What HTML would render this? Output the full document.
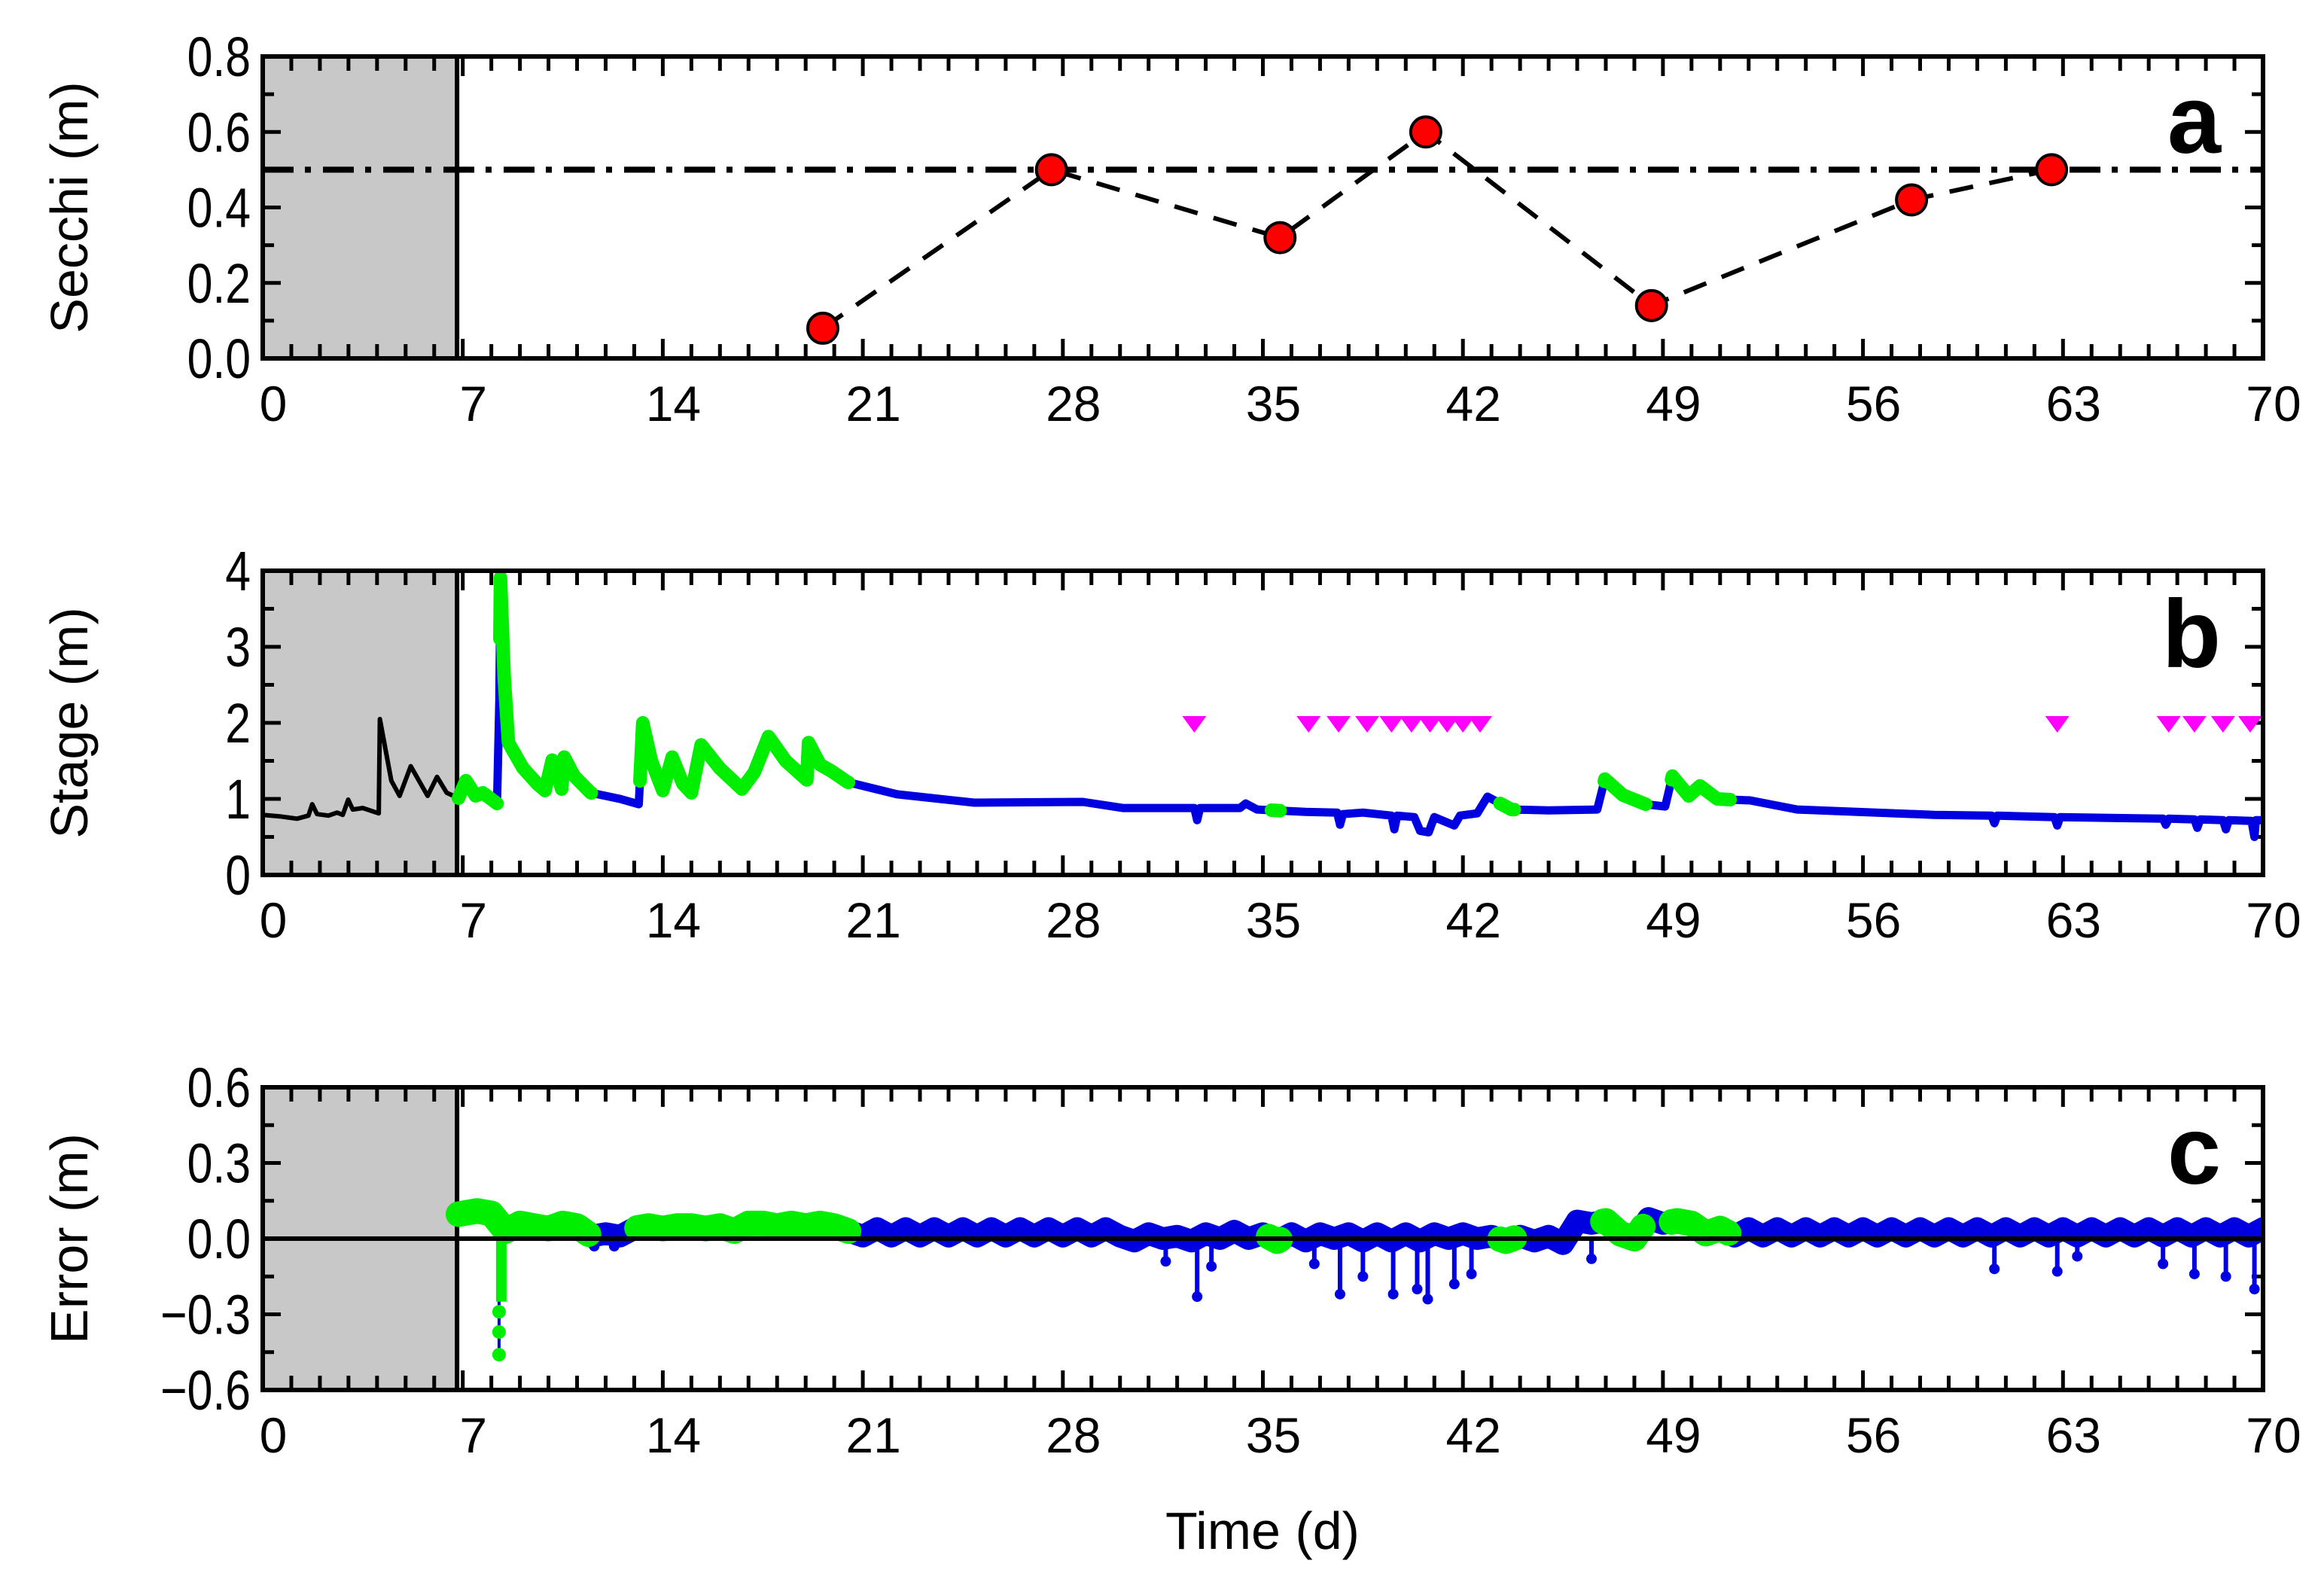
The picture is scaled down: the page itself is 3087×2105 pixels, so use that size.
<!DOCTYPE html>
<html><head><meta charset="utf-8">
<style>
html,body{margin:0;padding:0;background:#fff;}
svg{display:block;font-family:"Liberation Sans",Arial,sans-serif;}
</style></head>
<body>
<svg id="chart" width="3087" height="2105" viewBox="0 0 3087 2105" xmlns="http://www.w3.org/2000/svg">
<rect x="0" y="0" width="3087" height="2105" fill="#fff"/>
<defs>
<clipPath id="clipb"><rect x="349" y="758" width="2657" height="404"/></clipPath>
<clipPath id="clipc"><rect x="349" y="1444" width="2657" height="402"/></clipPath>
</defs>
<g id="root"></g>
</svg>
<script>
// ---------- data ----------
const xTickLabels = [0, 7, 14, 21, 28, 35, 42, 49, 56, 63, 70];
const secchiDays = [19.6, 27.6, 35.6, 40.7, 48.6, 57.7, 62.6];
const secchiValues = [0.08, 0.50, 0.32, 0.60, 0.14, 0.42, 0.50];
const secchiThreshold = 0.5;
const secchiYTicks = ["0.0", "0.2", "0.4", "0.6", "0.8"];
const stageYTicks = ["0", "1", "2", "3", "4"];
const errorYTicks = ["-0.6", "-0.3", "0.0", "0.3", "0.6"];
const spinUpEnd = 6.8;

const stageDays = [0.0,0.6,1.2,1.6,1.73,1.9,2.3,2.6,2.8,2.99,3.15,3.5,4.06,4.1,4.5,4.79,5.18,5.77,6.1,6.44,6.85,
 7.11,7.45,7.7,8.2,8.28,8.32,8.45,8.6,9.1,9.6,9.88,10.13,10.3,10.46,10.55,10.9,11.48,12.5,13.16,13.3,13.6,14.0,14.33,14.7,15.0,15.34,16.0,16.77,17.2,17.7,18.3,19.04,19.1,19.5,19.88,20.47,
 22.2,24.9,28.7,30.1,32.6,32.7,32.8,34.2,34.4,34.8,36.5,37.6,37.7,37.8,38.5,39.5,39.6,39.7,40.3,40.5,40.8,41.0,41.7,41.9,42.5,42.86,43.7,45.0,46.7,46.97,47.6,48.4,49.08,49.33,49.9,50.3,50.9,51.35,52.05,53.7,58.5,
 60.5,60.6,60.7,62.7,62.8,62.9,66.5,66.6,66.7,67.6,67.7,67.8,68.6,68.7,68.8,69.6,69.7,69.75,70.0];
const stageValues = [0.79,0.77,0.74,0.78,0.93,0.80,0.78,0.82,0.79,0.99,0.86,0.88,0.81,2.05,1.24,1.04,1.43,1.04,1.29,1.08,1.01,
 1.24,1.04,1.08,0.94,2.3,3.91,2.6,1.74,1.41,1.2,1.11,1.51,1.35,1.13,1.55,1.3,1.08,1.0,0.93,2.0,1.5,1.11,1.55,1.2,1.08,1.71,1.4,1.13,1.35,1.82,1.5,1.25,1.74,1.45,1.37,1.22,
 1.06,0.95,0.96,0.88,0.88,0.72,0.88,0.88,0.94,0.86,0.83,0.82,0.66,0.80,0.82,0.78,0.60,0.78,0.76,0.58,0.56,0.76,0.65,0.78,0.81,1.03,0.86,0.85,0.86,1.26,1.05,0.93,0.90,1.30,1.04,1.17,1.00,0.99,0.98,0.86,0.79,
 0.78,0.68,0.78,0.76,0.65,0.76,0.74,0.66,0.74,0.73,0.62,0.73,0.72,0.60,0.72,0.71,0.50,0.72,0.72];
const stageGreenStart = [6.85, 8.3, 13.2, 35.3, 43.3, 46.95, 49.3];
const stageGreenEnd   = [8.2, 11.5, 20.5, 35.6, 43.8, 48.4, 51.35];
const flagDays = [32.6, 36.6, 37.65, 38.65, 39.5, 40.2, 40.85, 41.45, 42.0, 42.6, 62.8, 66.7, 67.6, 68.6, 69.55];
const flagLevel = 2;

const errStart = 7.0, errStep = 0.5;
const errValues = [0.10,0.11,0.10,0.03,0.06,0.05,0.04,0.06,0.05,0.01,0.02,0.01,0.04,0.05,0.04,0.05,0.05,0.04,0.05,0.03,0.06,0.06,0.05,0.06,0.05,0.06,0.05,0.03,
 0.01,0.04,0.01,0.04,0.01,0.04,0.01,0.04,0.01,0.04,0.01,0.04,0.01,0.04,0.01,0.04,0.01,0.04,0.01,
 -0.01,0.02,0.00,0.01,-0.01,0.02,0.00,0.03,0.00,0.02,-0.01,0.02,-0.01,0.02,0.00,0.02,-0.01,0.02,-0.01,0.02,-0.01,0.02,0.00,0.02,0.00,0.01,-0.01,0.01,-0.01,0.01,-0.02,
 0.07,0.06,0.07,0.02,0.00,0.08,0.06,0.07,0.06,0.02,0.04,0.01,0.04,0.01,0.04,0.01,0.04,0.01,0.04,0.01,0.04,0.01,0.04,0.01,0.04,0.01,0.04,0.01,0.04,0.01,0.04,0.01,
 0.04,0.01,0.04,0.01,0.04,0.01,0.04,0.01,0.04,0.01,0.04,0.01,0.04,0.01,0.04,0.01,0.04,0.02];
const errGreenStart = [6.85, 8.3, 13.1, 35.2, 43.3, 46.9, 49.3];
const errGreenEnd   = [8.25, 11.4, 20.5, 35.6, 43.8, 48.3, 51.3];
const errSpikeDay = 8.27;
const errSpikeValues = [-0.29, -0.37, -0.46];
const errDipDays = [11.6, 12.3, 31.6, 32.7, 33.2, 36.8, 37.7, 38.5, 39.56, 40.4, 40.77, 41.7, 42.3, 46.5, 60.6, 62.8, 63.5, 66.5, 67.6, 68.7, 69.7];
const errDipValues = [-0.03, -0.03, -0.09, -0.23, -0.11, -0.10, -0.22, -0.15, -0.22, -0.20, -0.24, -0.18, -0.14, -0.08, -0.12, -0.13, -0.07, -0.10, -0.14, -0.15, -0.20];

// ---------- layout ----------
const NS = "http://www.w3.org/2000/svg";
const root = document.getElementById('root');
const X0 = 349, X1 = 3006;
function xs(d){ return X0 + (X1 - X0) * d / 70; }
const panels = {
  a: {top: 75, bottom: 476, min: 0, max: 0.8, major: 0.2, minor: 0.1},
  b: {top: 758, bottom: 1162, min: 0, max: 4, major: 1, minor: 0.5},
  c: {top: 1444, bottom: 1846, min: -0.6, max: 0.6, major: 0.3, minor: 0.15}
};
function ys(p, v){ return p.bottom - (v - p.min) / (p.max - p.min) * (p.bottom - p.top); }
function el(tag, attrs, parent){
  const e = document.createElementNS(NS, tag);
  for (const k in attrs) e.setAttribute(k, attrs[k]);
  (parent || root).appendChild(e);
  return e;
}
function pts(arrX, arrY, p){ return arrX.map((d,i)=> xs(d).toFixed(1)+','+ys(p,arrY[i]).toFixed(1)).join(' '); }
function sliceSeries(days, vals, a, b){
  const ox=[], oy=[];
  function interp(t){ for(let i=1;i<days.length;i++){ if(days[i]>=t){ const f=(t-days[i-1])/(days[i]-days[i-1]||1); return vals[i-1]+f*(vals[i]-vals[i-1]); } } return vals[vals.length-1]; }
  ox.push(a); oy.push(interp(a));
  for(let i=0;i<days.length;i++){ if(days[i]>a && days[i]<b){ ox.push(days[i]); oy.push(vals[i]); } }
  ox.push(b); oy.push(interp(b));
  return [ox, oy];
}

function drawPanel(key, yLabels, title, letter){
  const p = panels[key];
  const g = el('g', {});
  
  
  const gray = el('rect', {x: X0, y: p.top, width: xs(spinUpEnd) - X0, height: p.bottom - p.top, fill: '#c8c8c8'}, g);
  
  
  const vline = el('line', {x1: xs(spinUpEnd), x2: xs(spinUpEnd), y1: p.top, y2: p.bottom, stroke: '#000', 'stroke-width': 6}, g);
  
  
  for (let d = 0; d <= 70; d++) {
    const L = (d % 7 === 0) ? 26 : 19;
    el('line', {x1: xs(d), x2: xs(d), y1: p.top, y2: p.top + L, stroke: '#000', 'stroke-width': 5}, g);
    el('line', {x1: xs(d), x2: xs(d), y1: p.bottom, y2: p.bottom - L, stroke: '#000', 'stroke-width': 5}, g);
  }
  const nMinor = Math.round((p.max - p.min) / p.minor);
  for (let i = 0; i <= nMinor; i++) {
    const v = p.min + i * p.minor;
    const isMajor = i % 2 === 0;
    const L = isMajor ? 24 : 15;
    el('line', {x1: X0, x2: X0 + L, y1: ys(p, v), y2: ys(p, v), stroke: '#000', 'stroke-width': 5}, g);
    el('line', {x1: X1, x2: X1 - L, y1: ys(p, v), y2: ys(p, v), stroke: '#000', 'stroke-width': 5}, g);
  }
  yLabels.forEach((t, i) => {
    const v = p.min + i * p.major;
    const tx = el('text', {x: 0, y: 0, 'font-size': 66, 'text-anchor': 'end', fill: '#000', transform: 'translate(333,' + (ys(p, v) + 26) + ') scale(0.92,1.12)'}, g);
    tx.textContent = t.replace('-', '\u2212');
    
    
  });
  xTickLabels.forEach(d => {
    const tx = el('text', {x: xs(d) + 14, y: p.bottom + 83, 'font-size': 66, 'text-anchor': 'middle', fill: '#000'}, g);
    tx.textContent = String(d);
    
    
  });
  const cy = (p.top + p.bottom) / 2;
  const yt = el('text', {x: 0, y: 0, 'font-size': 70, 'text-anchor': 'middle', fill: '#000', transform: 'translate(116,' + cy + ') rotate(-90)'}, g);
  yt.textContent = title;
  
  
  const lt = el('text', {x: 2950, y: p.top + 128, 'font-size': 128, 'font-weight': 'bold', 'text-anchor': 'end', fill: '#000'}, g);
  lt.textContent = letter;
  
  
  return g;
}

// ----- Panel a -----
const pa = panels.a;
const gA = drawPanel('a', secchiYTicks, 'Secchi (m)', 'a');
const thr = el('line', {x1: X0, x2: X1, y1: ys(pa, secchiThreshold), y2: ys(pa, secchiThreshold), stroke: '#000', 'stroke-width': 8, 'stroke-dasharray': '41 15 8 16'}, gA);


const sl = el('polyline', {points: pts(secchiDays, secchiValues, pa), fill: 'none', stroke: '#000', 'stroke-width': 6, 'stroke-dasharray': '32 22'}, gA);


secchiDays.forEach((d, i) => {
  const c = el('circle', {cx: xs(d), cy: ys(pa, secchiValues[i]), r: 20, fill: '#ff0000', stroke: '#000', 'stroke-width': 4}, gA);
  
  
});

// ----- Panel b -----
const pb = panels.b;
const gB0 = drawPanel('b', stageYTicks, 'Stage (m)', 'b');
const gB = el('g', {'clip-path': 'url(#clipb)'}, gB0);


const preIdx = stageDays.findIndex(d => d > 6.85);
const blk = el('polyline', {points: pts(stageDays.slice(0, preIdx), stageValues.slice(0, preIdx), pb), fill: 'none', stroke: '#000', 'stroke-width': 6, 'stroke-linejoin': 'round'}, gB);


const blu = el('polyline', {points: pts(stageDays.slice(preIdx - 1), stageValues.slice(preIdx - 1), pb), fill: 'none', stroke: '#0000e0', 'stroke-width': 11, 'stroke-linejoin': 'round'}, gB);


stageGreenStart.forEach((a, i) => {
  const s = sliceSeries(stageDays, stageValues, a, stageGreenEnd[i]);
  const gl = el('polyline', {points: pts(s[0], s[1], pb), fill: 'none', stroke: '#00ee00', 'stroke-width': 18, 'stroke-linejoin': 'round', 'stroke-linecap': 'round'}, gB);
  
  
});
flagDays.forEach(d => {
  const x = xs(d), y = ys(pb, flagLevel);
  const t = el('polygon', {points: (x-16)+','+(y-9)+' '+(x+16)+','+(y-9)+' '+x+','+(y+13), fill: '#ff00ff'}, gB);
  
  
});

// ----- Panel c -----
const pc = panels.c;
const gC0 = drawPanel('c', errorYTicks, 'Error (m)', 'c');
const gC = el('g', {'clip-path': 'url(#clipc)'}, gC0);


const errDays = errValues.map((v, i) => errStart + i * errStep);
errDipDays.forEach((d, i) => {
  const ln = el('line', {x1: xs(d), x2: xs(d), y1: ys(pc, 0), y2: ys(pc, errDipValues[i]), stroke: '#0000e0', 'stroke-width': 6}, gC);
  
  
  const dt = el('circle', {cx: xs(d), cy: ys(pc, errDipValues[i]), r: 7, fill: '#0000e0'}, gC);
  
  
});
const eb = el('polyline', {points: pts(errDays.filter(d => d >= 11), errValues.filter((v, i) => errDays[i] >= 11), pc), fill: 'none', stroke: '#0000e0', 'stroke-width': 30, 'stroke-linejoin': 'round'}, gC);


const spk = el('line', {x1: xs(errSpikeDay), x2: xs(errSpikeDay), y1: ys(pc, 0.05), y2: ys(pc, errSpikeValues[errSpikeValues.length - 1]), stroke: '#0000e0', 'stroke-width': 4}, gC);


const spkG = el('line', {x1: xs(errSpikeDay)+3, x2: xs(errSpikeDay)+3, y1: ys(pc, 0.05), y2: ys(pc, -0.25), stroke: '#00ee00', 'stroke-width': 14}, gC);


errSpikeValues.forEach(v => {
  const c = el('circle', {cx: xs(errSpikeDay), cy: ys(pc, v), r: 9, fill: '#00ee00'}, gC);
  
  
});
errGreenStart.forEach((a, i) => {
  const s = sliceSeries(errDays, errValues, a, errGreenEnd[i]);
  const gl = el('polyline', {points: pts(s[0], s[1], pc), fill: 'none', stroke: '#00ee00', 'stroke-width': 34, 'stroke-linejoin': 'round', 'stroke-linecap': 'round'}, gC);
  
  
});
const zl = el('line', {x1: X0, x2: X1, y1: ys(pc, 0), y2: ys(pc, 0), stroke: '#000', 'stroke-width': 6}, gC0);



['a','b','c'].forEach(k => {
  const p = panels[k];
  const f = el('rect', {x: X0, y: p.top, width: X1 - X0, height: p.bottom - p.top, fill: 'none', stroke: '#000', 'stroke-width': 6});
  
  
});

const xt = el('text', {x: 1677, y: 2057, 'font-size': 70, 'text-anchor': 'middle', fill: '#000'});
xt.textContent = 'Time (d)';


</script>
</body></html>
